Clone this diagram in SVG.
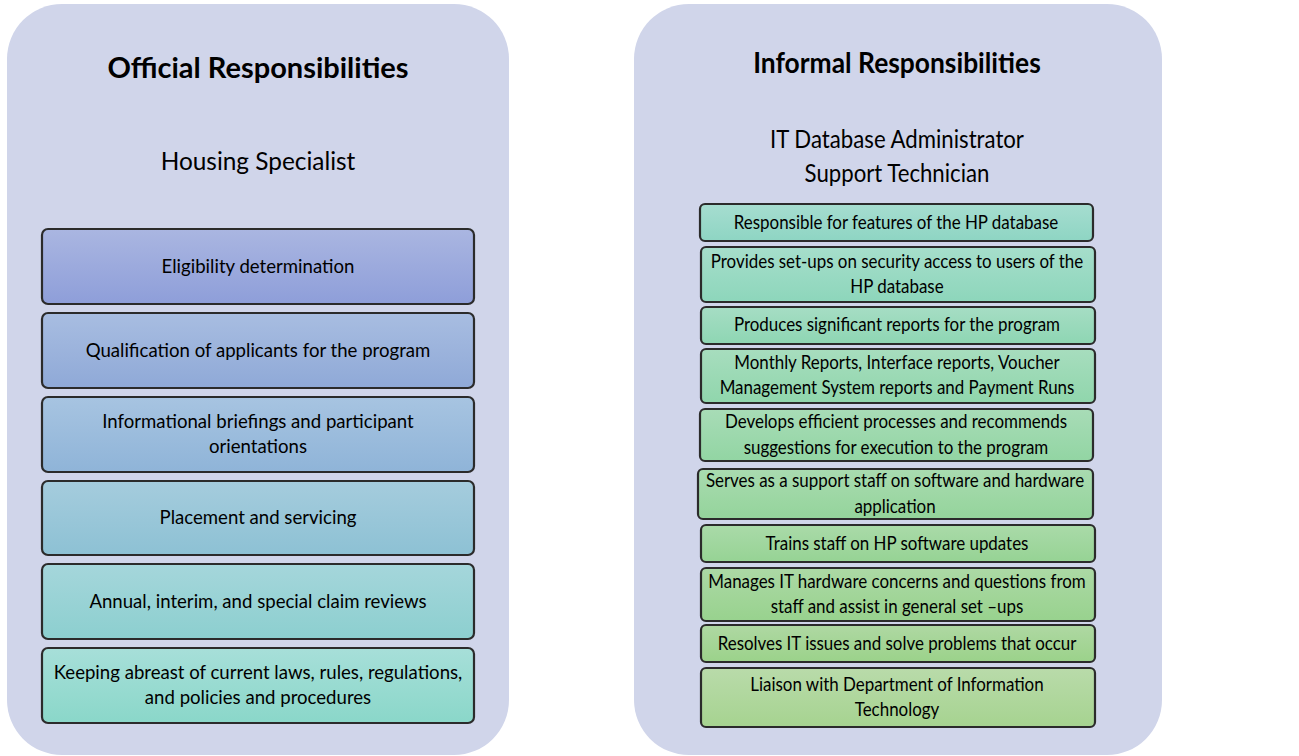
<svg xmlns="http://www.w3.org/2000/svg" width="1299" height="756" viewBox="0 0 1299 756">
  <style>
    .panel { fill: #D0D5EA; }
    .box { stroke: #2B2B2B; stroke-width: 2.2; }
    .title { font-family: Lato, "Liberation Sans", sans-serif; font-weight: bold; font-size: 29px; fill: #000; text-anchor: middle; }
    .sub { font-family: Lato, "Liberation Sans", sans-serif; font-size: 24.4px; fill: #000; text-anchor: middle; }
    .lbl { font-family: Lato, "Liberation Sans", sans-serif; font-size: 18.6px; fill: #000; text-anchor: middle; }
  </style>
  <defs>
    <linearGradient id="gL1" x1="0" y1="0" x2="0" y2="1"><stop offset="0" stop-color="#AAB6E1"/><stop offset="1" stop-color="#8E9ED9"/></linearGradient>
    <linearGradient id="gL2" x1="0" y1="0" x2="0" y2="1"><stop offset="0" stop-color="#A8BDE1"/><stop offset="1" stop-color="#8FA9D7"/></linearGradient>
    <linearGradient id="gL3" x1="0" y1="0" x2="0" y2="1"><stop offset="0" stop-color="#A7C4E1"/><stop offset="1" stop-color="#8FB4D8"/></linearGradient>
    <linearGradient id="gL4" x1="0" y1="0" x2="0" y2="1"><stop offset="0" stop-color="#A5CCDD"/><stop offset="1" stop-color="#8DC1D4"/></linearGradient>
    <linearGradient id="gL5" x1="0" y1="0" x2="0" y2="1"><stop offset="0" stop-color="#A5D6DB"/><stop offset="1" stop-color="#8CCFCF"/></linearGradient>
    <linearGradient id="gL6" x1="0" y1="0" x2="0" y2="1"><stop offset="0" stop-color="#A7DFD9"/><stop offset="1" stop-color="#8AD7C9"/></linearGradient>
    <linearGradient id="gR1" x1="0" y1="0" x2="0" y2="1"><stop offset="0" stop-color="#A6DDD0"/><stop offset="1" stop-color="#8ED5C3"/></linearGradient>
    <linearGradient id="gR2" x1="0" y1="0" x2="0" y2="1"><stop offset="0" stop-color="#A6DECB"/><stop offset="1" stop-color="#8DD6BB"/></linearGradient>
    <linearGradient id="gR3" x1="0" y1="0" x2="0" y2="1"><stop offset="0" stop-color="#A6DDC4"/><stop offset="1" stop-color="#8ED6B3"/></linearGradient>
    <linearGradient id="gR4" x1="0" y1="0" x2="0" y2="1"><stop offset="0" stop-color="#A7DDBE"/><stop offset="1" stop-color="#90D6AC"/></linearGradient>
    <linearGradient id="gR5" x1="0" y1="0" x2="0" y2="1"><stop offset="0" stop-color="#A8DCB7"/><stop offset="1" stop-color="#92D5A3"/></linearGradient>
    <linearGradient id="gR6" x1="0" y1="0" x2="0" y2="1"><stop offset="0" stop-color="#A9DBB0"/><stop offset="1" stop-color="#94D49B"/></linearGradient>
    <linearGradient id="gR7" x1="0" y1="0" x2="0" y2="1"><stop offset="0" stop-color="#AADAA9"/><stop offset="1" stop-color="#96D394"/></linearGradient>
    <linearGradient id="gR8" x1="0" y1="0" x2="0" y2="1"><stop offset="0" stop-color="#ACD9A5"/><stop offset="1" stop-color="#98D28E"/></linearGradient>
    <linearGradient id="gR9" x1="0" y1="0" x2="0" y2="1"><stop offset="0" stop-color="#AFD8A3"/><stop offset="1" stop-color="#9BD28A"/></linearGradient>
    <linearGradient id="gR10" x1="0" y1="0" x2="0" y2="1"><stop offset="0" stop-color="#B9DBAA"/><stop offset="1" stop-color="#A6D390"/></linearGradient>
  </defs>

  <rect width="1299" height="756" fill="#FFFFFF"/>

  <!-- Official responsibilities panel -->
  <g id="panel-official">
    <rect class="panel" x="7" y="4" width="502" height="751" rx="55"/>
    <text class="title" x="258" y="78">Official Responsibilities</text>
    <text class="sub" x="258" y="170">Housing Specialist</text>
  </g>

  <g id="off-1">
    <rect class="box" x="42" y="229" width="432" height="75" rx="6" fill="url(#gL1)"/>
    <text class="lbl" x="258" y="273">Eligibility determination</text>
  </g>
  <g id="off-2">
    <rect class="box" x="42" y="313" width="432" height="75" rx="6" fill="url(#gL2)"/>
    <text class="lbl" x="258" y="357">Qualification of applicants for the program</text>
  </g>
  <g id="off-3">
    <rect class="box" x="42" y="397" width="432" height="75" rx="6" fill="url(#gL3)"/>
    <text class="lbl" x="258" y="428">Informational briefings and participant</text>
    <text class="lbl" x="258" y="453">orientations</text>
  </g>
  <g id="off-4">
    <rect class="box" x="42" y="481" width="432" height="74" rx="6" fill="url(#gL4)"/>
    <text class="lbl" x="258" y="524">Placement and servicing</text>
  </g>
  <g id="off-5">
    <rect class="box" x="42" y="564" width="432" height="75" rx="6" fill="url(#gL5)"/>
    <text class="lbl" x="258" y="608">Annual, interim, and special claim reviews</text>
  </g>
  <g id="off-6">
    <rect class="box" x="42" y="648" width="432" height="75" rx="6" fill="url(#gL6)"/>
    <text class="lbl" x="258" y="679">Keeping abreast of current laws, rules, regulations,</text>
    <text class="lbl" x="258" y="704">and policies and procedures</text>
  </g>

  <!-- Informal responsibilities panel; its lettering is set slightly condensed -->
  <g id="panel-informal">
    <rect class="panel" x="634" y="4" width="528" height="751" rx="55"/>
    <g transform="matrix(0.91 0 0 1 80.73 0)">
      <text class="title" x="897" y="73">Informal Responsibilities</text>
      <text class="sub" x="897" y="148">IT Database Administrator</text>
      <text class="sub" x="897" y="182">Support Technician</text>
    </g>
  </g>

  <g id="inf-1">
    <rect class="box" x="700" y="204" width="393" height="37" rx="5" fill="url(#gR1)"/>
    <text class="lbl" x="896" y="229" transform="matrix(0.91 0 0 1 80.64 0)">Responsible for features of the HP database</text>
  </g>
  <g id="inf-2">
    <rect class="box" x="701" y="247" width="394" height="55" rx="5" fill="url(#gR2)"/>
    <g transform="matrix(0.91 0 0 1 80.73 0)">
      <text class="lbl" x="897" y="268">Provides set-ups on security access to users of the</text>
      <text class="lbl" x="897" y="293">HP database</text>
    </g>
  </g>
  <g id="inf-3">
    <rect class="box" x="701" y="307" width="394" height="37" rx="5" fill="url(#gR3)"/>
    <text class="lbl" x="897" y="331" transform="matrix(0.91 0 0 1 80.73 0)">Produces significant reports for the program</text>
  </g>
  <g id="inf-4">
    <rect class="box" x="701" y="349" width="394" height="54" rx="5" fill="url(#gR4)"/>
    <g transform="matrix(0.91 0 0 1 80.73 0)">
      <text class="lbl" x="897" y="369">Monthly Reports, Interface reports, Voucher</text>
      <text class="lbl" x="897" y="394">Management System reports and Payment Runs</text>
    </g>
  </g>
  <g id="inf-5">
    <rect class="box" x="700" y="409" width="393" height="52" rx="5" fill="url(#gR5)"/>
    <g transform="matrix(0.91 0 0 1 80.64 0)">
      <text class="lbl" x="896" y="428">Develops efficient processes and recommends</text>
      <text class="lbl" x="896" y="454">suggestions for execution to the program</text>
    </g>
  </g>
  <g id="inf-6">
    <rect class="box" x="698" y="469" width="395" height="50" rx="5" fill="url(#gR6)"/>
    <g transform="matrix(0.91 0 0 1 80.55 0)">
      <text class="lbl" x="895" y="487">Serves as a support staff on software and hardware</text>
      <text class="lbl" x="895" y="513">application</text>
    </g>
  </g>
  <g id="inf-7">
    <rect class="box" x="701" y="525" width="394" height="37" rx="5" fill="url(#gR7)"/>
    <text class="lbl" x="897" y="550" transform="matrix(0.91 0 0 1 80.73 0)">Trains staff on HP software updates</text>
  </g>
  <g id="inf-8">
    <rect class="box" x="701" y="568" width="394" height="53" rx="5" fill="url(#gR8)"/>
    <g transform="matrix(0.91 0 0 1 80.73 0)">
      <text class="lbl" x="897" y="588">Manages IT hardware concerns and questions from</text>
      <text class="lbl" x="897" y="613">staff and assist in general set –ups</text>
    </g>
  </g>
  <g id="inf-9">
    <rect class="box" x="701" y="625" width="394" height="37" rx="5" fill="url(#gR9)"/>
    <text class="lbl" x="897" y="650" transform="matrix(0.91 0 0 1 80.73 0)">Resolves IT issues and solve problems that occur</text>
  </g>
  <g id="inf-10">
    <rect class="box" x="701" y="668" width="394" height="59" rx="5" fill="url(#gR10)"/>
    <g transform="matrix(0.91 0 0 1 80.73 0)">
      <text class="lbl" x="897" y="691">Liaison with Department of Information</text>
      <text class="lbl" x="897" y="716">Technology</text>
    </g>
  </g>

  <!-- no connectors in this layout -->
  <g id="connectors"/>
</svg>
